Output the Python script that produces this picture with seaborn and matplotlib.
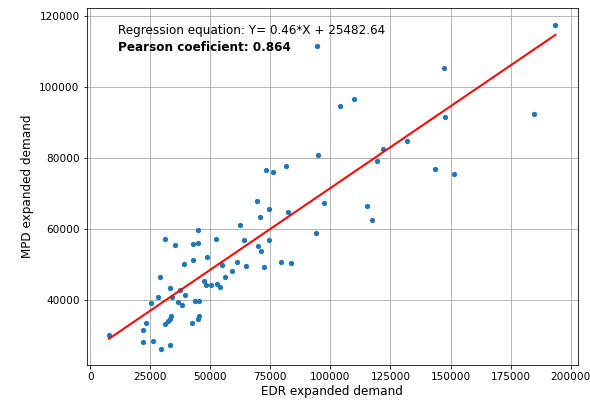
import matplotlib
matplotlib.use("Agg")
import matplotlib.pyplot as plt
import seaborn as sns
import numpy as np
import pandas as pd

edr = [7820, 21960, 23090, 21960, 26120, 29500, 33000, 25100, 28080, 29050,
       33070, 34000, 39020, 42600, 48600, 37400, 39500, 36500, 38000, 43600,
       45100, 33500, 33200, 32400, 31000, 42500, 45400, 44900, 47400, 48300,
       50300, 52700, 54000, 45000, 31000, 35100, 42900, 45000, 52400, 62480,
       63900, 69900, 70900, 55000, 60940, 64900, 58930, 55950, 72460, 79370,
       83400, 73000, 76040, 81320, 69390, 74380, 70510, 82450, 74380, 93870,
       97450, 94930, 103900, 109740, 115300, 117400, 119470, 122000, 131750, 147800,
       143700, 151600, 147200, 184600, 193640, 94500]
mpd = [30015, 31600, 33570, 28170, 28500, 26250, 27220, 39200, 40920, 46350,
       43360, 40850, 50070, 51300, 52000, 42750, 41250, 39500, 38500, 39600,
       39600, 35600, 34700, 34000, 33300, 33570, 35500, 34650, 45400, 44100,
       44100, 44350, 43600, 59800, 57060, 55400, 55650, 56150, 57060, 61100,
       56780, 55100, 53800, 49700, 50710, 49650, 48030, 46350, 49310, 50710,
       50350, 76640, 75880, 77560, 67770, 65450, 63410, 64810, 56780, 58780,
       67130, 80640, 94630, 96420, 66440, 62460, 79160, 82400, 84840, 91550,
       76900, 75520, 105360, 92300, 117480, 111500]

slope = 0.46
intercept = 25482.64
pearson = 0.864

df = pd.DataFrame({"EDR": edr, "MPD": mpd})
xs = np.array([min(edr), max(edr)])
line_df = pd.DataFrame({"x": xs, "y": slope * xs + intercept})

fig = plt.figure(figsize=(590 / 72, 402 / 72), dpi=72)
ax = fig.add_axes([86.7 / 590, 1 - 365 / 402, (577.7 - 86.7) / 590, (365 - 8.3) / 402])

sns.scatterplot(data=df, x="EDR", y="MPD", ax=ax, color="#1f77b4", s=28,
                linewidth=0, zorder=3)
sns.lineplot(data=line_df, x="x", y="y", ax=ax, color="red", linewidth=2, zorder=4)

ax.grid(True, color="#b0b0b0", linewidth=0.9)
ax.set_axisbelow(True)
ax.set_xlabel("EDR expanded demand", fontsize=12, labelpad=3)
ax.set_ylabel("MPD expanded demand", fontsize=12, labelpad=5)
ax.tick_params(labelsize=10.5)

ax.text(0.064, 0.939, f"Regression equation: Y= {slope}*X + {intercept}",
        transform=ax.transAxes, fontsize=12, va="center", ha="left")
ax.text(0.064, 0.889, f"Pearson coeficient: {pearson}",
        transform=ax.transAxes, fontsize=12, va="center", ha="left", fontweight="bold")

fig.savefig("out.png", dpi=72)
